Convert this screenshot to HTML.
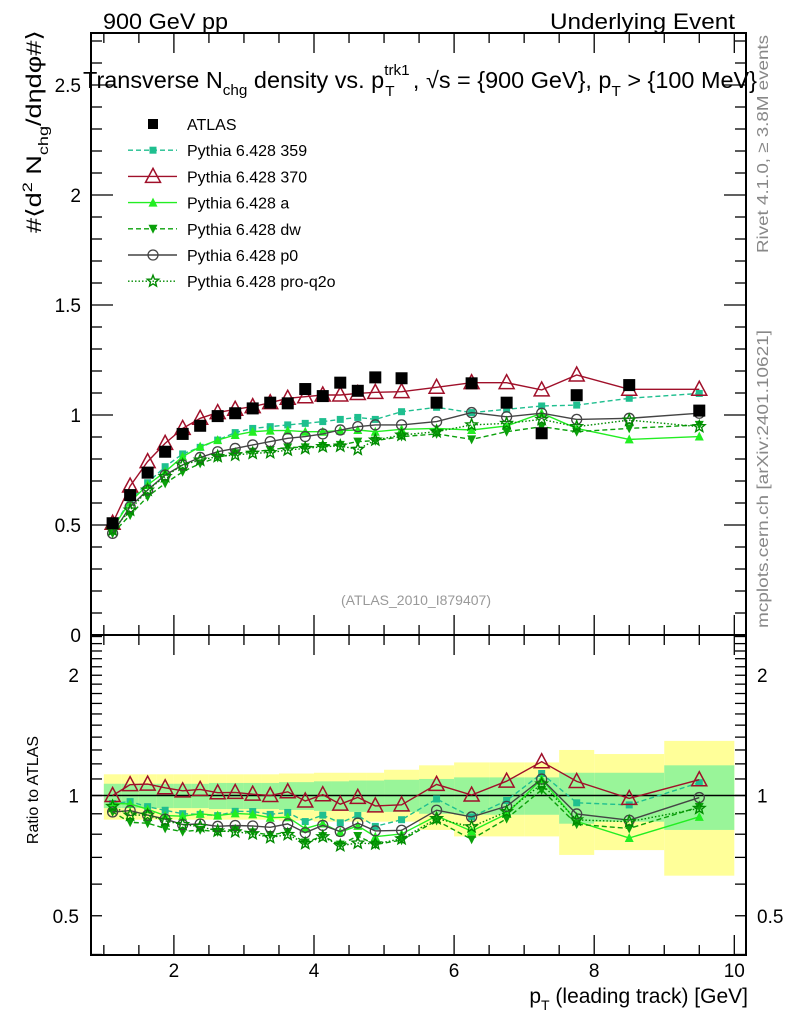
<!DOCTYPE html>
<html><head><meta charset="utf-8"><style>
body{margin:0;background:#fff}
svg{display:block;font-family:"Liberation Sans",sans-serif}
</style></head><body>
<svg id="c" width="786" height="1024" viewBox="0 0 786 1024" xmlns="http://www.w3.org/2000/svg">
<g id="bands"></g>
<g id="marks"></g>
<g id="axes"></g>
<text x="103" y="29" font-size="22" textLength="125" lengthAdjust="spacingAndGlyphs">900 GeV pp</text>
<text x="550" y="29" font-size="22" textLength="185" lengthAdjust="spacingAndGlyphs">Underlying Event</text>
<text x="83" y="88" font-size="23" textLength="674" lengthAdjust="spacingAndGlyphs">Transverse N<tspan font-size="15" dy="7">chg</tspan><tspan dy="-7"> density vs. p</tspan><tspan font-size="15" dy="-13">trk1</tspan><tspan font-size="15" dx="-24" dy="21">T</tspan><tspan dy="-8" dx="18">, √s = {900 GeV}, p</tspan><tspan font-size="15" dy="8">T</tspan><tspan dy="-8"> &gt; {100 MeV}</tspan></text>
<text transform="translate(41,233) rotate(-90)" font-size="21" textLength="203" lengthAdjust="spacingAndGlyphs">#⟨d<tspan font-size="14" dy="-9">2</tspan><tspan dy="9"> N</tspan><tspan font-size="14" dy="7">chg</tspan><tspan dy="-7">/dηdφ#⟩</tspan></text>
<text transform="translate(38,790) rotate(-90)" font-size="16" text-anchor="middle">Ratio to ATLAS</text>
<text x="748" y="1003" font-size="21" text-anchor="end">p<tspan font-size="14" dy="7">T</tspan><tspan dy="-7"> (leading track) [GeV]</tspan></text>
<text transform="translate(768,253) rotate(-90)" font-size="16" fill="#888" textLength="218" lengthAdjust="spacingAndGlyphs">Rivet 4.1.0, ≥ 3.8M events</text>
<text transform="translate(768,628) rotate(-90)" font-size="16" fill="#888" textLength="298" lengthAdjust="spacingAndGlyphs">mcplots.cern.ch [arXiv:2401.10621]</text>
<text x="416" y="605" font-size="14" fill="#999" text-anchor="middle">(ATLAS_2010_I879407)</text>
<g id="legend"></g>
</svg>
<script>
const xCenters=[1.125,1.375,1.625,1.875,2.125,2.375,2.625,2.875,3.125,3.375,3.625,3.875,4.125,4.375,4.625,4.875,5.25,5.75,6.25,6.75,7.25,7.75,8.5,9.5];
const xEdges=[1,1.25,1.5,1.75,2,2.25,2.5,2.75,3,3.25,3.5,3.75,4,4.25,4.5,4.75,5,5.5,6,6.5,7,7.5,8,9,10];
const atlas=[0.508,0.636,0.738,0.833,0.914,0.951,0.995,1.008,1.03,1.056,1.053,1.118,1.086,1.147,1.11,1.171,1.167,1.056,1.144,1.056,0.917,1.09,1.136,1.02];
const p359=[0.485,0.614,0.692,0.765,0.823,0.853,0.886,0.92,0.939,0.947,0.955,0.962,0.97,0.98,0.989,0.98,1.015,1.035,1.011,1.026,1.041,1.045,1.076,1.098];
const p370=[0.508,0.677,0.788,0.871,0.939,0.985,1.011,1.026,1.038,1.056,1.076,1.083,1.091,1.091,1.098,1.103,1.106,1.126,1.147,1.147,1.114,1.182,1.117,1.117];
const pa=[0.485,0.606,0.682,0.742,0.811,0.856,0.886,0.909,0.924,0.929,0.929,0.924,0.924,0.929,0.932,0.924,0.935,0.939,0.932,0.95,1.008,0.939,0.889,0.902];
const pdw=[0.462,0.545,0.629,0.689,0.742,0.78,0.807,0.826,0.833,0.841,0.853,0.853,0.859,0.864,0.879,0.883,0.902,0.914,0.889,0.924,0.947,0.924,0.939,0.955];
const pp0=[0.462,0.583,0.659,0.727,0.773,0.807,0.833,0.848,0.864,0.879,0.894,0.902,0.914,0.932,0.947,0.955,0.955,0.97,1.011,0.992,1.008,0.98,0.985,1.008];
const pq2o=[0.477,0.568,0.659,0.72,0.773,0.795,0.811,0.818,0.826,0.829,0.841,0.848,0.856,0.859,0.844,0.886,0.909,0.924,0.955,0.962,0.98,0.947,0.977,0.947];
const yelHi=[1.13,1.13,1.13,1.13,1.13,1.13,1.13,1.13,1.13,1.13,1.135,1.135,1.14,1.14,1.14,1.14,1.16,1.19,1.21,1.21,1.21,1.3,1.27,1.37];
const yelLo=[0.87,0.87,0.87,0.87,0.87,0.87,0.87,0.87,0.87,0.87,0.865,0.865,0.86,0.86,0.86,0.86,0.86,0.82,0.79,0.79,0.79,0.71,0.73,0.63];
const grnHi=[1.07,1.07,1.07,1.07,1.07,1.07,1.075,1.075,1.075,1.075,1.08,1.08,1.085,1.085,1.09,1.09,1.095,1.1,1.11,1.11,1.11,1.14,1.14,1.19];
const grnLo=[0.93,0.93,0.93,0.93,0.93,0.93,0.925,0.925,0.925,0.925,0.92,0.92,0.915,0.915,0.91,0.91,0.91,0.9,0.895,0.895,0.895,0.85,0.86,0.82];
const mainTicks=["0","0.5","1","1.5","2","2.5"];
const xTicks=["2","4","6","8","10"];
const NS="http://www.w3.org/2000/svg";
const L=91,R=746,T=33,MB=635,RB=955;
function X(v){return 33.8+70.05*v;}
function Y(v){return 635-220*v;}
function RY(r){return 795.5-173.5*Math.log(r);}
function mk(tag,at,parent){const e=document.createElementNS(NS,tag);for(const k in at)e.setAttribute(k,at[k]);parent.appendChild(e);return e;}
const bands=document.getElementById('bands'),marks=document.getElementById('marks'),axes=document.getElementById('axes'),leg=document.getElementById('legend');
for(let i=0;i<xCenters.length;i++){
  const x0=X(xEdges[i]),x1=X(xEdges[i+1]);
  const y=mk('rect',{x:x0,y:RY(yelHi[i]),width:x1-x0,height:RY(yelLo[i])-RY(yelHi[i]),fill:'#ffff99'},bands);
  
  
  const g=mk('rect',{x:x0,y:RY(grnHi[i]),width:x1-x0,height:RY(grnLo[i])-RY(grnHi[i]),fill:'#99f599'},bands);
  
  
}
const rl=mk('line',{x1:L,x2:R,y1:RY(1),y2:RY(1),stroke:'#000','stroke-width':1.5},bands);


function marker(type,x,y,color,parent){
  let e;
  if(type==='bigsq')e=mk('rect',{x:x-6,y:y-6,width:12,height:12,fill:'#000'},parent);
  else if(type==='sq')e=mk('rect',{x:x-3.5,y:y-3.5,width:7,height:7,fill:color},parent);
  else if(type==='tri')e=mk('polygon',{points:`${x},${y-8} ${x-7.5},${y+6} ${x+7.5},${y+6}`,fill:'none',stroke:color,'stroke-width':1.5},parent);
  else if(type==='ftri')e=mk('polygon',{points:`${x},${y-5} ${x-4.5},${y+4} ${x+4.5},${y+4}`,fill:color},parent);
  else if(type==='dtri')e=mk('polygon',{points:`${x},${y+5} ${x-4.5},${y-4} ${x+4.5},${y-4}`,fill:color},parent);
  else if(type==='circ')e=mk('circle',{cx:x,cy:y,r:5,fill:'none',stroke:color,'stroke-width':1.3},parent);
  else {let p=[];for(let k=0;k<10;k++){const a=-Math.PI/2+k*Math.PI/5,r=k%2?2.6:6;p.push((x+r*Math.cos(a)).toFixed(1)+','+(y+r*Math.sin(a)).toFixed(1));}
    e=mk('polygon',{points:p.join(' '),fill:'none',stroke:color,'stroke-width':1.4},parent);}
  return e;
}
const series=[
 {name:'Pythia 6.428 359',d:p359,c:'#1fbf8f',dash:'5,3',m:'sq',id:'p359'},
 {name:'Pythia 6.428 370',d:p370,c:'#a0102a',dash:'',m:'tri',id:'p370'},
 {name:'Pythia 6.428 a',d:pa,c:'#22ee22',dash:'',m:'ftri',id:'pa'},
 {name:'Pythia 6.428 dw',d:pdw,c:'#0aa00a',dash:'5,3',m:'dtri',id:'pdw'},
 {name:'Pythia 6.428 p0',d:pp0,c:'#444444',dash:'',m:'circ',id:'pp0'},
 {name:'Pythia 6.428 pro-q2o',d:pq2o,c:'#008a00',dash:'1.5,2',m:'star',id:'pq2o'}
];
for(const s of series){
  const g=mk('g',{},marks);
  
  
  const pts=s.d.map((v,i)=>X(xCenters[i]).toFixed(1)+','+Y(v).toFixed(1)).join(' ');
  const rpts=s.d.map((v,i)=>X(xCenters[i]).toFixed(1)+','+RY(v/atlas[i]).toFixed(1)).join(' ');
  const l1=mk('polyline',{points:pts,fill:'none',stroke:s.c,'stroke-width':1.4,'stroke-dasharray':s.dash},g);
  
  
  const l2=mk('polyline',{points:rpts,fill:'none',stroke:s.c,'stroke-width':1.4,'stroke-dasharray':s.dash},g);
  
  
  s.d.forEach((v,i)=>{
    const m1=marker(s.m,X(xCenters[i]),Y(v),s.c,g);
    
    
    const m2=marker(s.m,X(xCenters[i]),RY(v/atlas[i]),s.c,g);
    
    
  });
}
const ga=mk('g',{},marks);


atlas.forEach((v,i)=>{
  const m=marker('bigsq',X(xCenters[i]),Y(v),'#000',ga);
  
  
});
for(const [t,b] of [[T,MB],[MB,RB]]){
  const f=mk('rect',{x:L,y:t,width:R-L,height:b-t,fill:'none',stroke:'#000','stroke-width':2},axes);
  
  
  for(let v=1;v<=10;v+=0.5){
    const major=(v%2===0),len=major?20:10,x=X(v);
    mk('line',{x1:x,x2:x,y1:b,y2:b-len,stroke:'#000','stroke-width':1.3},axes);
    mk('line',{x1:x,x2:x,y1:t,y2:t+len,stroke:'#000','stroke-width':1.3},axes);
  }
}
for(let k=0;k<=27;k++){
  const v=k/10,y=Y(v),len=(k%5===0)?22:11;
  mk('line',{x1:L,x2:L+len,y1:y,y2:y,stroke:'#000','stroke-width':1.3},axes);
  mk('line',{x1:R,x2:R-len,y1:y,y2:y,stroke:'#000','stroke-width':1.3},axes);
}
mainTicks.forEach((s,k)=>{
  const t=mk('text',{x:81,y:Y(k*0.5)+7,'font-size':19,'text-anchor':'end'},axes);t.textContent=s;
  
  
});
const rt=[0.4,0.5,0.6,0.7,0.8,0.9,1,1.1,1.2,1.3,1.4,1.5,1.6,1.7,1.8,1.9,2,2.1,2.2,2.3,2.4,2.5];
for(const r of rt){const y=RY(r);if(y<MB||y>RB)continue;
  mk('line',{x1:L,x2:L+11,y1:y,y2:y,stroke:'#000','stroke-width':1.3},axes);
  mk('line',{x1:R,x2:R-11,y1:y,y2:y,stroke:'#000','stroke-width':1.3},axes);}
for(const [s,r] of [["0.5",0.5],["1",1],["2",2]]){
  const t=mk('text',{x:79,y:RY(r)+7,'font-size':19,'text-anchor':'end'},axes);t.textContent=s;
  
  
  const t2=mk('text',{x:757,y:RY(r)+7,'font-size':19},axes);t2.textContent=s;
  
  
}
xTicks.forEach((s,k)=>{
  const t=mk('text',{x:X(2*(k+1)),y:977,'font-size':19,'text-anchor':'middle'},axes);t.textContent=s;
  
  
});
const legItems=[{name:'ATLAS',m:'bigsq',c:'#000',dash:null}].concat(series);
legItems.forEach((s,k)=>{
  const y=124+26.2*k;
  const g=mk('g',{},leg);
  
  
  if(s.dash!==null)mk('line',{x1:128,x2:177,y1:y,y2:y,stroke:s.c,'stroke-width':1.4,'stroke-dasharray':s.dash},g);
  if(s.m==='bigsq')mk('rect',{x:148,y:y-5,width:10,height:10,fill:'#000'},g);else marker(s.m,153,y,s.c,g);
  const t=mk('text',{x:187,y:y+6,'font-size':16},g);t.textContent=s.name;
});
</script>
</body></html>
